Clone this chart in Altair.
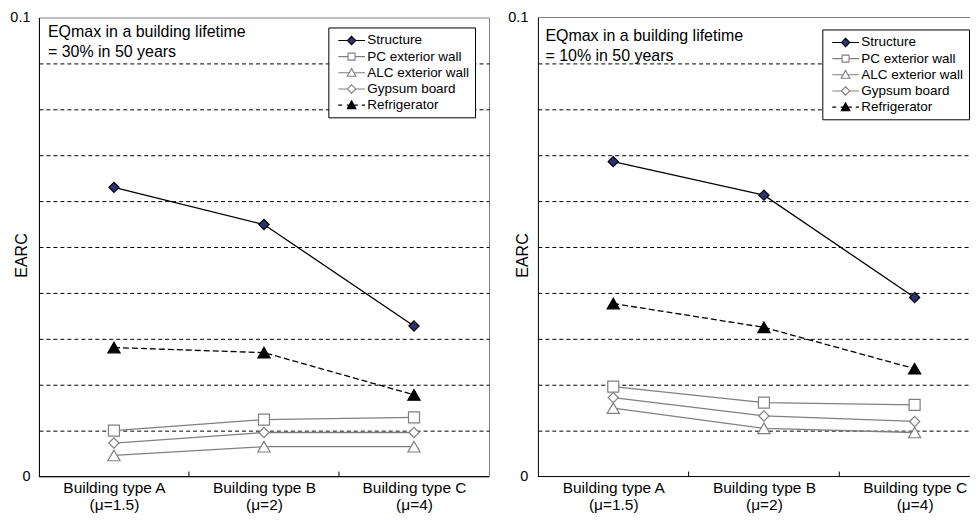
import json
import altair as alt
import pandas as pd

# ---------------- data ----------------
categories = ["Building type A", "Building type B", "Building type C"]
mu_labels = ["(μ=1.5)", "(μ=2)", "(μ=4)"]
series = ["Structure", "PC exterior wall", "ALC exterior wall", "Gypsum board", "Refrigerator"]

left_structure = [0.0630, 0.0549, 0.0328]
left_pc = [0.0100, 0.0124, 0.0129]
left_alc = [0.0046, 0.0065, 0.0065]
left_gypsum = [0.0073, 0.0096, 0.0096]
left_refrigerator = [0.0281, 0.0270, 0.0178]

right_structure = [0.0686, 0.0613, 0.0390]
right_pc = [0.0196, 0.0161, 0.0156]
right_alc = [0.0149, 0.0105, 0.0096]
right_gypsum = [0.0172, 0.0132, 0.0120]
right_refrigerator = [0.0377, 0.0325, 0.0235]

left_note = ["EQmax in a building lifetime", "= 30% in 50 years"]
right_note = ["EQmax in a building lifetime", "= 10% in 50 years"]

y_ticks = [0, 0.01, 0.02, 0.03, 0.04, 0.05, 0.06, 0.07, 0.08, 0.09, 0.1]

# ---------------- styling ----------------
FONT = "Liberation Sans"
H = 460
positions = list(range(len(categories)))
boundaries = [p + 0.5 for p in positions[:-1]]
label_lookup = json.dumps([[c, m] for c, m in zip(categories, mu_labels)], ensure_ascii=False)

stroke_colors = ["black", "#808080", "#808080", "#808080", "black"]
fill_colors = ["#2E3170", "white", "white", "white", "black"]
marker_shapes = ["diamond", "square", "triangle-up", "diamond", "triangle-up"]


def legend_path(kind, dashed=False):
    L, R, c = -0.43, 3.39, 1.47
    if kind == "diamond":
        m = 0.6
        marker = f"M{c:.3f},{-m:.3f}L{c + m:.3f},0L{c:.3f},{m:.3f}L{c - m:.3f},0Z"
        half = m
    elif kind == "square":
        s = 0.5
        marker = (f"M{c - s:.3f},{-s:.3f}L{c + s:.3f},{-s:.3f}"
                  f"L{c + s:.3f},{s:.3f}L{c - s:.3f},{s:.3f}Z")
        half = s
    else:
        m, b = 0.62, 0.5
        marker = f"M{c:.3f},{-m:.3f}L{c + m:.3f},{b:.3f}L{c - m:.3f},{b:.3f}Z"
        half = m * m / (m + b)
    if dashed:
        line = (f"M{L:.3f},0L{L + 0.55:.3f},0M{c - half - 0.35:.3f},0L{c - half:.3f},0"
                f"M{c + half:.3f},0L{c + half + 0.55:.3f},0M{R - 0.45:.3f},0L{R:.3f},0")
    else:
        line = f"M{L:.3f},0L{c - half:.3f},0M{c + half:.3f},0L{R:.3f},0"
    return line + marker


legend_shapes = [
    legend_path("diamond"),
    legend_path("square"),
    legend_path("triangle"),
    legend_path("diamond"),
    legend_path("triangle", dashed=True),
]


def make_panel(values, note, width, band, label_pad, title_x, title_y,
               note_x, note_y, leg_x, leg_y, frame):
    rows = []
    for i, (s, vals) in enumerate(zip(series, values)):
        for p, v in zip(positions, vals):
            rows.append({"pos": p, "series": s, "value": v,
                         "stroke_col": stroke_colors[i], "fill_col": fill_colors[i]})
    df = pd.DataFrame(rows)

    xscale = alt.Scale(domain=[-0.5, -0.5 + width / band], nice=False, zero=False)
    xaxis = alt.Axis(
        title=None, values=positions,
        labelExpr=f"{label_lookup}[round(datum.value)]",
        ticks=False, labelPadding=4, labelFontSize=15.5, labelLineHeight=17,
        labelAngle=0, labelColor="black", labelFlush=False, labelBound=False,
        domain=False, grid=False, labelOverlap=False, labelBaseline="top",
    )
    X = alt.X("pos:Q", scale=xscale, axis=xaxis)
    Y = alt.Y(
        "value:Q",
        scale=alt.Scale(domain=[0, 0.1], nice=False, zero=True),
        axis=alt.Axis(
            values=y_ticks,
            labelExpr="datum.value < 0.005 ? '0' : (datum.value > 0.095 ? '0.1' : '')",
            ticks=False, tickSize=0, labelPadding=label_pad, labelFontSize=14.5,
            labelColor="black", domainColor="black", domainWidth=1,
            grid=True, gridColor="black", gridDash=[4, 3], gridWidth=1,
            gridOpacity={"condition": {"test": "datum.value < 0.005 || datum.value > 0.095",
                                       "value": 0}, "value": 1},
            title="EARC", titleFontSize=16, titleFontWeight="normal", titleColor="black",
            titleX=title_x, titleY=title_y, titleBaseline="middle", titleAngle=270,
        ),
    )

    solid = alt.Chart(df).transform_filter(
        alt.datum.series != "Refrigerator"
    ).mark_line(strokeWidth=1.3).encode(
        x=X, y=Y, detail="series:N",
        stroke=alt.Stroke("stroke_col:N", scale=None),
    )
    dashed = alt.Chart(df).transform_filter(
        alt.datum.series == "Refrigerator"
    ).mark_line(strokeWidth=1.3, strokeDash=[6, 3]).encode(
        x=X, y=Y,
        stroke=alt.Stroke("stroke_col:N", scale=None),
    )

    marker_layers = []
    for shape, size in [("diamond", 105), ("square", 121), ("triangle-up", 150)]:
        members = [s for s, sh in zip(series, marker_shapes) if sh == shape]
        marker_layers.append(
            alt.Chart(df)
            .transform_filter(alt.FieldOneOfPredicate(field="series", oneOf=members))
            .mark_point(shape=shape, filled=True, size=size, strokeWidth=1.2, opacity=1)
            .encode(
                x=X, y=Y,
                stroke=alt.Stroke("stroke_col:N", scale=None),
                fill=alt.Fill("fill_col:N", scale=None),
            )
        )

    leg = dict(
        orient="none", legendX=leg_x, legendY=leg_y, title=None, padding=5,
        strokeColor="black", fillColor="white", symbolSize=196, symbolStrokeWidth=1.1,
        labelFontSize=13.5, labelOffset=18, rowPadding=1.2, labelColor="black",
        symbolOpacity=1,
    )
    legend_layer = alt.Chart(df).mark_point(filled=True, opacity=0).encode(
        x=X, y=Y,
        shape=alt.Shape("series:N", scale=alt.Scale(domain=series, range=legend_shapes),
                        legend=alt.Legend(**leg)),
        stroke=alt.Stroke("series:N", scale=alt.Scale(domain=series, range=stroke_colors),
                          legend=alt.Legend(**leg)),
        fill=alt.Fill("series:N", scale=alt.Scale(domain=series, range=fill_colors),
                      legend=alt.Legend(**leg)),
    )

    one = pd.DataFrame({"n": [0]})
    base_line = alt.Chart(one).mark_rule(color="black", strokeWidth=1).encode(
        x=alt.value(0), x2=alt.value(width), y=alt.value(H),
    )
    layers = [solid, dashed, *marker_layers, legend_layer, base_line]
    if not frame:
        top_line = alt.Chart(one).mark_rule(color="#808080", strokeWidth=1).encode(
            x=alt.value(0), x2=alt.value(width), y=alt.value(0),
        )
        layers.append(top_line)
    ticks = alt.Chart(pd.DataFrame({"pos": boundaries})).mark_rule(
        color="black", strokeWidth=1
    ).encode(
        x=X, y=alt.value(H), y2=alt.value(H - 5),
    )

    note_layer = alt.Chart(one).mark_text(
        align="left", baseline="top", fontSize=16, lineHeight=20, font=FONT,
        color="black", lineBreak="\n",
    ).encode(
        x=alt.value(note_x), y=alt.value(note_y), text=alt.value("\n".join(note)),
    )
    layers += [ticks, note_layer]

    props = dict(width=width, height=H)
    if not frame:
        props["view"] = alt.ViewBackground(stroke="transparent")
    return alt.layer(*layers).properties(**props)


left = make_panel(
    [left_structure, left_pc, left_alc, left_gypsum, left_refrigerator],
    left_note, 451, 451 / 3.0, 9, -17, 238, 9, 7, 290, 10, True,
)
right = make_panel(
    [right_structure, right_pc, right_alc, right_gypsum, right_refrigerator],
    right_note, 433, 151.0, 10, -15.5, 238, 7.5, 10.5, 285, 12, False,
)

chart = (
    alt.hconcat(left, right, spacing=17)
    .resolve_scale(x="independent", y="independent", stroke="independent",
                   fill="independent", shape="independent")
    .resolve_legend(stroke="independent", fill="independent", shape="independent")
    .properties(padding={"left": 1, "top": 0, "right": 0, "bottom": 0})
    .configure(font=FONT)
    .configure_view(stroke="#808080", strokeWidth=1)
)

chart.save("out.html", embed_options={"renderer": "svg", "actions": False})
